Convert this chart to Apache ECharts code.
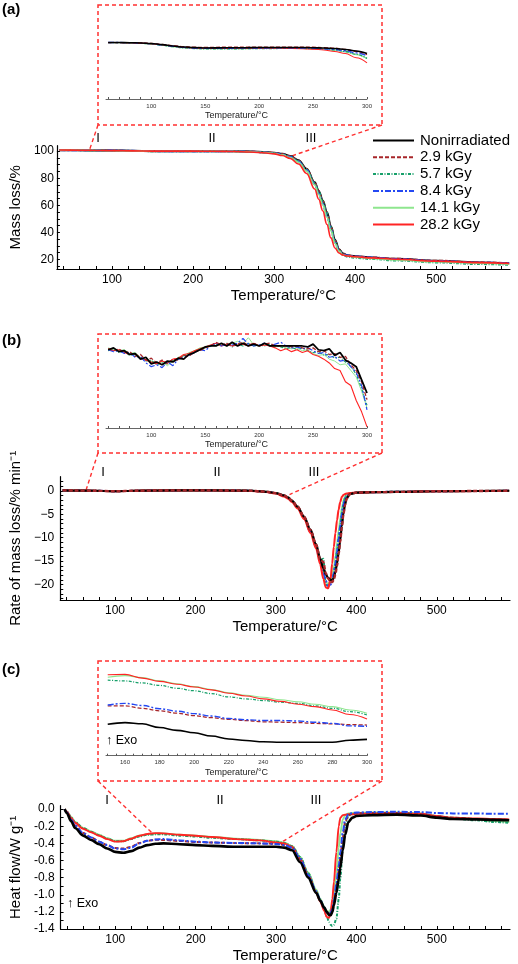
<!DOCTYPE html>
<html><head><meta charset="utf-8">
<script src="https://cdn.jsdelivr.net/npm/echarts@6/dist/echarts.min.js"></script>
<style>html,body{margin:0;padding:0;background:#fff}#c{width:518px;height:964px}</style>
</head><body><div id="c"></div>
<script>
// ---------- names ----------
const seriesNames = ['Nonirradiated', '2.9 kGy', '5.7 kGy', '8.4 kGy', '14.1 kGy', '28.2 kGy'];

// ---------- (a) TG main ----------
const tempA = [35, 50, 75, 100, 125, 150, 175, 200, 225, 250, 270, 290, 300, 310, 320, 330, 340, 350, 355, 360, 365, 370, 375, 380, 385, 390, 400, 420, 450, 500, 550, 590];
const massNon = [100.8, 100.7, 100.6, 100.4, 100.2, 100.0, 100.0, 100.0, 100.0, 99.9, 99.7, 99.2, 98.8, 97.9, 96.3, 93.2, 87.0, 77.0, 70.5, 63.5, 55.0, 44.5, 34.5, 27.5, 24.3, 23.1, 22.4, 21.5, 20.4, 19.0, 17.8, 17.2];
const mass29 = [100.8, 100.7, 100.6, 100.4, 100.2, 100.05, 100.05, 100.05, 100.05, 99.95, 99.75, 99.2, 98.8, 97.9, 96.2, 93.0, 86.8, 76.8, 70.2, 63.0, 54.5, 44.0, 34.0, 27.2, 24.2, 23.1, 22.4, 21.6, 20.6, 19.2, 18.0, 17.4];
const mass57 = [100.8, 100.7, 100.55, 100.3, 100.05, 99.9, 99.9, 99.9, 99.9, 99.8, 99.55, 99.0, 98.5, 97.5, 95.8, 92.7, 86.5, 76.8, 70.2, 63.0, 54.5, 44.0, 34.0, 27.0, 23.4, 22.0, 21.2, 20.3, 19.2, 17.8, 16.6, 16.0];
const mass84 = [100.8, 100.7, 100.6, 100.4, 100.2, 100.0, 99.95, 99.95, 99.95, 99.85, 99.6, 99.0, 98.5, 97.5, 95.7, 92.3, 85.8, 75.5, 68.5, 61.0, 52.0, 42.0, 32.5, 26.5, 23.8, 23.0, 22.3, 21.4, 20.3, 18.9, 17.7, 17.2];
const mass141 = [100.8, 100.7, 100.55, 100.3, 100.05, 99.9, 99.9, 99.9, 99.9, 99.8, 99.5, 98.9, 98.3, 97.2, 95.3, 91.8, 85.2, 75.0, 68.0, 60.5, 51.5, 41.5, 32.0, 26.2, 23.5, 22.6, 21.8, 20.8, 19.7, 18.3, 17.2, 16.6];
const mass282 = [100.8, 100.7, 100.6, 100.4, 100.2, 100.0, 100.0, 100.0, 99.9, 99.7, 99.3, 98.6, 98.0, 96.8, 94.6, 90.5, 83.5, 72.0, 64.5, 56.0, 46.0, 36.0, 28.5, 24.8, 23.3, 22.6, 22.0, 21.2, 20.2, 18.8, 17.7, 17.1];

// ---------- (a) inset ----------
const tempAi = [60, 70, 80, 90, 100, 110, 120, 130, 140, 150, 170, 190, 210, 230, 250, 260, 270, 280, 290, 300];
const massInNon = [100.8, 100.8, 100.78, 100.74, 100.66, 100.5, 100.3, 100.15, 100.06, 100.02, 100.03, 100.06, 100.08, 100.08, 100.05, 100.0, 99.93, 99.8, 99.58, 99.2];
const massIn29 = [100.8, 100.8, 100.78, 100.74, 100.66, 100.52, 100.34, 100.2, 100.12, 100.1, 100.12, 100.14, 100.15, 100.15, 100.12, 100.06, 99.98, 99.8, 99.5, 99.05];
const massIn57 = [100.8, 100.79, 100.76, 100.7, 100.6, 100.42, 100.2, 100.03, 99.92, 99.88, 99.88, 99.9, 99.93, 99.95, 99.93, 99.85, 99.72, 99.5, 99.1, 98.5];
const massIn84 = [100.8, 100.8, 100.77, 100.72, 100.63, 100.46, 100.26, 100.1, 100.0, 99.96, 99.97, 100.0, 100.02, 100.02, 99.98, 99.9, 99.8, 99.6, 99.3, 98.86];
const massIn141 = [100.8, 100.79, 100.76, 100.7, 100.6, 100.42, 100.2, 100.04, 99.94, 99.9, 99.9, 99.92, 99.95, 99.96, 99.92, 99.83, 99.68, 99.45, 99.05, 98.48];
const massIn282 = [100.8, 100.8, 100.77, 100.72, 100.63, 100.47, 100.27, 100.1, 100.0, 99.96, 99.96, 99.98, 99.98, 99.95, 99.85, 99.72, 99.5, 99.2, 98.6, 97.84];

// ---------- (b) DTG main ----------
const tempB = [35, 50, 75, 100, 125, 150, 200, 250, 270, 280, 290, 300, 310, 315, 320, 327, 335, 343, 350, 355, 359, 362, 365, 368, 370, 372, 374, 376, 378, 380, 382, 384, 386, 388, 392, 400, 420, 450, 500, 550, 590];
const rateNon = [0.1, 0.05, 0.0, -0.1, 0.0, 0.05, 0.1, 0.05, 0.0, -0.1, -0.25, -0.5, -1.0, -1.4, -2.1, -3.4, -5.5, -8.3, -11.4, -14.4, -16.5, -17.8, -18.6, -19.0, -19.1, -18.6, -17.3, -15.5, -13.2, -10.5, -7.5, -4.8, -2.9, -1.6, -0.7, -0.4, -0.3, -0.25, -0.1, -0.05, 0.0];
const rate29 = [0.1, 0.05, 0.0, -0.1, 0.0, 0.05, 0.1, 0.05, 0.0, -0.1, -0.25, -0.5, -1.0, -1.4, -2.1, -3.4, -5.5, -8.4, -11.5, -14.6, -15.2, -17.5, -18.8, -19.4, -19.5, -19.0, -17.8, -16.0, -13.5, -10.8, -7.8, -5.0, -3.0, -1.7, -0.7, -0.4, -0.3, -0.25, -0.1, -0.05, 0.0];
const rate57 = [0.1, 0.05, 0.0, -0.1, 0.0, 0.05, 0.1, 0.05, 0.0, -0.1, -0.25, -0.5, -1.0, -1.45, -2.2, -3.5, -5.7, -8.6, -11.8, -15.0, -14.5, -20.0, -20.3, -19.5, -19.0, -17.8, -15.6, -13.0, -10.3, -7.5, -4.8, -2.7, -1.5, -1.0, -0.6, -0.4, -0.3, -0.2, -0.1, -0.05, 0.0];
const rate84 = [0.1, 0.05, 0.0, -0.1, 0.0, 0.05, 0.1, 0.05, 0.0, -0.1, -0.25, -0.5, -1.05, -1.5, -2.25, -3.6, -5.8, -8.8, -12.0, -15.2, -17.5, -19.2, -20.3, -20.0, -19.2, -17.6, -15.5, -13.0, -10.3, -7.6, -5.0, -3.0, -1.7, -1.1, -0.6, -0.4, -0.3, -0.2, -0.1, -0.05, 0.0];
const rate141 = [0.1, 0.05, 0.0, -0.1, 0.0, 0.05, 0.1, 0.05, 0.0, -0.1, -0.25, -0.5, -1.05, -1.5, -2.3, -3.6, -5.8, -8.8, -12.0, -15.0, -17.0, -19.5, -19.8, -19.2, -18.3, -16.3, -13.8, -11.0, -8.3, -5.8, -3.6, -2.0, -1.2, -0.8, -0.6, -0.4, -0.3, -0.2, -0.1, -0.05, 0.0];
const rate282 = [0.1, 0.05, 0.0, -0.1, 0.0, 0.05, 0.1, 0.0, -0.05, -0.15, -0.3, -0.6, -1.2, -1.7, -2.4, -3.8, -6.0, -9.0, -12.3, -15.6, -18.8, -20.6, -20.8, -18.8, -15.5, -12.0, -9.0, -6.3, -4.0, -2.4, -1.3, -0.9, -0.7, -0.6, -0.5, -0.4, -0.3, -0.25, -0.1, -0.05, 0.0];

// ---------- (b) inset ----------
const tempBi = [60, 65, 70, 75, 80, 85, 90, 95, 100, 105, 110, 115, 120, 125, 130, 135, 140, 145, 150, 155, 160, 165, 170, 175, 180, 185, 190, 195, 200, 205, 210, 215, 220, 225, 230, 235, 240, 245, 250, 255, 260, 265, 270, 275, 280, 285, 290, 295, 300];
const rateInNon = [-0.04, -0.02, -0.06, -0.05, -0.09, -0.08, -0.14, -0.12, -0.19, -0.17, -0.2, -0.16, -0.17, -0.13, -0.14, -0.09, -0.07, -0.04, -0.01, 0, 0, 0.03, 0, 0.04, 0, 0.03, 0, 0.02, 0, 0.03, 0, 0, 0, 0, 0, 0, 0, -0.01, 0.02, -0.04, -0.05, -0.03, -0.1, -0.07, -0.15, -0.18, -0.22, -0.36, -0.5];
const rateIn29 = [-0.03, -0.05, -0.03, -0.07, -0.06, -0.11, -0.09, -0.15, -0.13, -0.18, -0.15, -0.19, -0.14, -0.15, -0.1, -0.11, -0.06, -0.05, -0.02, 0, 0.04, 0.01, 0.03, 0, 0.02, 0.04, 0.01, 0.03, 0, 0.02, 0.03, 0, 0, 0, -0.01, 0, -0.02, -0.03, -0.02, -0.06, -0.05, -0.09, -0.08, -0.12, -0.11, -0.2, -0.26, -0.38, -0.57];
const rateIn57 = [-0.05, -0.03, -0.07, -0.06, -0.1, -0.09, -0.13, -0.16, -0.15, -0.2, -0.18, -0.19, -0.15, -0.14, -0.1, -0.08, -0.06, -0.03, -0.02, 0, 0.02, 0, 0.03, -0.01, 0.02, 0, 0.03, 0, 0.01, 0, 0.02, 0, -0.01, -0.03, -0.01, -0.04, -0.02, -0.05, -0.07, -0.06, -0.1, -0.09, -0.13, -0.12, -0.17, -0.22, -0.3, -0.45, -0.63];
const rateIn84 = [-0.04, -0.06, -0.05, -0.08, -0.07, -0.12, -0.11, -0.18, -0.22, -0.2, -0.23, -0.17, -0.21, -0.14, -0.12, -0.1, -0.07, -0.04, -0.05, 0, 0.03, 0, 0.02, 0.01, 0.03, 0.08, 0.02, 0, 0.01, 0.03, 0, 0.02, 0.04, 0, -0.02, -0.01, -0.03, -0.02, -0.05, -0.08, -0.07, -0.12, -0.11, -0.16, -0.15, -0.22, -0.28, -0.42, -0.68];
const rateIn141 = [-0.02, -0.04, -0.05, -0.04, -0.08, -0.07, -0.12, -0.14, -0.16, -0.18, -0.17, -0.21, -0.16, -0.12, -0.11, -0.07, -0.05, -0.02, -0.01, 0.01, 0, 0.02, 0, 0.03, 0.05, 0.02, 0.09, 0.01, 0, 0.02, 0, -0.01, 0, -0.02, -0.03, -0.02, -0.05, -0.04, -0.08, -0.1, -0.09, -0.14, -0.16, -0.2, -0.19, -0.26, -0.33, -0.48, -0.66];
const rateIn282 = [-0.03, -0.05, -0.04, -0.07, -0.09, -0.08, -0.13, -0.15, -0.17, -0.19, -0.16, -0.18, -0.14, -0.13, -0.09, -0.08, -0.05, -0.03, -0.01, 0.01, 0.03, 0, 0.02, 0, 0.01, 0.02, 0, 0.03, 0, 0.01, 0, -0.02, -0.05, -0.03, -0.06, -0.04, -0.07, -0.05, -0.09, -0.11, -0.14, -0.18, -0.24, -0.26, -0.38, -0.42, -0.58, -0.7, -0.86];

// ---------- (c) DSC main ----------
const tempC = [37, 40, 45, 50, 60, 70, 80, 90, 100, 110, 120, 130, 140, 150, 160, 180, 200, 220, 250, 280, 300, 310, 320, 330, 340, 350, 355, 360, 363, 366, 368, 370, 372, 375, 378, 380, 383, 386, 390, 395, 400, 420, 450, 480, 500, 520, 550, 570, 590];
const heatNon = [0.0, -0.05, -0.14, -0.22, -0.31, -0.36, -0.41, -0.46, -0.50, -0.51, -0.49, -0.45, -0.42, -0.405, -0.40, -0.41, -0.42, -0.43, -0.44, -0.44, -0.44, -0.45, -0.48, -0.62, -0.80, -0.98, -1.07, -1.15, -1.20, -1.235, -1.24, -1.2, -1.12, -0.98, -0.82, -0.68, -0.48, -0.3, -0.15, -0.1, -0.08, -0.07, -0.065, -0.075, -0.1, -0.115, -0.12, -0.125, -0.13];
const heat29 = [0.0, -0.04, -0.12, -0.19, -0.28, -0.33, -0.38, -0.42, -0.455, -0.46, -0.44, -0.395, -0.37, -0.358, -0.36, -0.372, -0.385, -0.39, -0.397, -0.40, -0.405, -0.42, -0.45, -0.59, -0.78, -0.97, -1.07, -1.16, -1.21, -1.23, -1.22, -1.18, -1.09, -0.92, -0.72, -0.56, -0.33, -0.15, -0.07, -0.055, -0.05, -0.045, -0.045, -0.06, -0.085, -0.1, -0.115, -0.12, -0.125];
const heat57 = [0.0, -0.03, -0.09, -0.15, -0.22, -0.265, -0.305, -0.345, -0.375, -0.375, -0.35, -0.32, -0.30, -0.295, -0.295, -0.31, -0.32, -0.335, -0.35, -0.365, -0.38, -0.395, -0.43, -0.56, -0.75, -0.96, -1.07, -1.17, -1.25, -1.32, -1.35, -1.365, -1.35, -1.28, -1.05, -0.8, -0.45, -0.2, -0.08, -0.06, -0.05, -0.045, -0.045, -0.055, -0.08, -0.11, -0.13, -0.15, -0.16];
const heat84 = [0.0, -0.04, -0.12, -0.19, -0.28, -0.33, -0.38, -0.42, -0.46, -0.47, -0.45, -0.4, -0.37, -0.355, -0.35, -0.365, -0.38, -0.39, -0.395, -0.40, -0.408, -0.42, -0.45, -0.58, -0.77, -0.96, -1.06, -1.15, -1.2, -1.22, -1.21, -1.17, -1.07, -0.88, -0.66, -0.5, -0.27, -0.12, -0.06, -0.045, -0.04, -0.035, -0.03, -0.035, -0.045, -0.05, -0.05, -0.055, -0.055];
const heat141 = [0.0, -0.03, -0.09, -0.15, -0.22, -0.26, -0.30, -0.34, -0.37, -0.37, -0.34, -0.31, -0.295, -0.285, -0.285, -0.30, -0.31, -0.325, -0.345, -0.36, -0.375, -0.39, -0.43, -0.56, -0.74, -0.94, -1.05, -1.14, -1.19, -1.2, -1.17, -1.12, -1.0, -0.75, -0.45, -0.28, -0.12, -0.07, -0.05, -0.045, -0.045, -0.04, -0.04, -0.05, -0.08, -0.1, -0.12, -0.14, -0.15];
const heat282 = [0.0, -0.03, -0.10, -0.16, -0.23, -0.27, -0.31, -0.35, -0.38, -0.375, -0.345, -0.31, -0.29, -0.28, -0.283, -0.30, -0.31, -0.326, -0.35, -0.365, -0.39, -0.40, -0.44, -0.58, -0.77, -0.97, -1.08, -1.19, -1.26, -1.27, -1.2, -1.05, -0.85, -0.5, -0.2, -0.1, -0.07, -0.065, -0.06, -0.06, -0.055, -0.05, -0.045, -0.055, -0.08, -0.1, -0.11, -0.115, -0.12];

// ---------- (c) inset ----------
const tempCi = [150, 160, 170, 180, 190, 200, 210, 220, 230, 240, 250, 260, 270, 280, 290, 300];
const heatInNon = [-0.403, -0.399, -0.402, -0.411, -0.418, -0.424, -0.432, -0.439, -0.443, -0.446, -0.447, -0.447, -0.447, -0.447, -0.442, -0.44];
const heatIn29 = [-0.358, -0.358, -0.364, -0.37, -0.376, -0.382, -0.387, -0.391, -0.394, -0.397, -0.398, -0.399, -0.401, -0.402, -0.404, -0.405];
const heatIn57 = [-0.295, -0.297, -0.302, -0.308, -0.315, -0.321, -0.328, -0.336, -0.341, -0.345, -0.349, -0.352, -0.358, -0.364, -0.372, -0.38];
const heatIn84 = [-0.356, -0.352, -0.357, -0.365, -0.371, -0.377, -0.383, -0.389, -0.392, -0.394, -0.394, -0.395, -0.398, -0.401, -0.407, -0.408];
const heatIn141 = [-0.288, -0.284, -0.289, -0.297, -0.304, -0.311, -0.318, -0.326, -0.332, -0.337, -0.343, -0.348, -0.354, -0.36, -0.368, -0.376];
const heatIn282 = [-0.282, -0.281, -0.29, -0.298, -0.305, -0.312, -0.319, -0.327, -0.334, -0.341, -0.347, -0.354, -0.36, -0.368, -0.379, -0.39];

// ---------- tick labels ----------
const xMainLabels = [100, 200, 300, 400, 500];
const xMainTicks = [40, 60, 80, 100, 120, 140, 160, 180, 200, 220, 240, 260, 280, 300, 320, 340, 360, 380, 400, 420, 440, 460, 480, 500, 520, 540, 560, 580];
const yALabels = [20, 40, 60, 80, 100];
const yATicks = [15, 20, 25, 30, 35, 40, 45, 50, 55, 60, 65, 70, 75, 80, 85, 90, 95, 100];
const yBLabels = [-20, -15, -10, -5, 0];
const yBTicks = [-23, -22, -21, -20, -19, -18, -17, -16, -15, -14, -13, -12, -11, -10, -9, -8, -7, -6, -5, -4, -3, -2, -1, 0, 1, 2];
const yCLabels = [-1.4, -1.2, -1.0, -0.8, -0.6, -0.4, -0.2, 0.0];
const yCTicks = [-1.4, -1.3, -1.2, -1.1, -1.0, -0.9, -0.8, -0.7, -0.6, -0.5, -0.4, -0.3, -0.2, -0.1, 0.0];
const xInABLabels = [100, 150, 200, 250, 300];
const xInABTicks = [60, 70, 80, 90, 100, 110, 120, 130, 140, 150, 160, 170, 180, 190, 200, 210, 220, 230, 240, 250, 260, 270, 280, 290, 300];
const xInCLabels = [160, 180, 200, 220, 240, 260, 280, 300];
const xInCTicks = [150, 155, 160, 165, 170, 175, 180, 185, 190, 195, 200, 205, 210, 215, 220, 225, 230, 235, 240, 245, 250, 255, 260, 265, 270, 275, 280, 285, 290, 295, 300];

// ---------- styles ----------
const FONT = "'Liberation Sans', Arial, Helvetica, sans-serif";
const STY = {
  'Nonirradiated': {color: '#000000', type: 'solid', width: 2.2},
  '2.9 kGy': {color: '#a8262a', type: [4, 2], width: 1.8},
  '5.7 kGy': {color: '#17a06a', type: [3, 1.5, 1, 1.5], width: 1.8},
  '8.4 kGy': {color: '#2448f2', type: [6, 2, 2, 2], width: 2},
  '14.1 kGy': {color: '#8ee68e', type: 'solid', width: 1.6},
  '28.2 kGy': {color: '#ff2424', type: 'solid', width: 1.6}
};

function mk(name, gi, xs, ys, wScale, smooth) {
  const s = STY[name];
  return {
    type: 'line', name: name, xAxisIndex: gi, yAxisIndex: gi,
    data: xs.map((x, i) => [x, ys[i]]),
    symbol: 'none', showSymbol: false, smooth: smooth, smoothMonotone: 'x',
    lineStyle: {color: s.color, type: s.type, width: s.width * wScale},
    itemStyle: {color: s.color}, emphasis: {disabled: true}, silent: true
  };
}

const series = [
  // (a) main
  mk('Nonirradiated', 0, tempA, massNon, 1, 0.4),
  mk('2.9 kGy', 0, tempA, mass29, 1, 0.4),
  mk('5.7 kGy', 0, tempA, mass57, 1, 0.4),
  mk('8.4 kGy', 0, tempA, mass84, 1, 0.4),
  mk('14.1 kGy', 0, tempA, mass141, 1, 0.4),
  mk('28.2 kGy', 0, tempA, mass282, 1, 0.4),
  // (a) inset
  mk('14.1 kGy', 1, tempAi, massIn141, 0.7, 0.4),
  mk('5.7 kGy', 1, tempAi, massIn57, 0.7, 0.4),
  mk('28.2 kGy', 1, tempAi, massIn282, 0.7, 0.4),
  mk('8.4 kGy', 1, tempAi, massIn84, 0.7, 0.4),
  mk('2.9 kGy', 1, tempAi, massIn29, 0.7, 0.4),
  mk('Nonirradiated', 1, tempAi, massInNon, 0.7, 0.4),
  // (b) main
  mk('14.1 kGy', 2, tempB, rate141, 1, 0.3),
  mk('5.7 kGy', 2, tempB, rate57, 1.1, 0.3),
  mk('8.4 kGy', 2, tempB, rate84, 1, 0.3),
  mk('28.2 kGy', 2, tempB, rate282, 1.3, 0.3),
  mk('Nonirradiated', 2, tempB, rateNon, 1, 0.3),
  mk('2.9 kGy', 2, tempB, rate29, 1.3, 0.3),
  // (b) inset
  mk('14.1 kGy', 3, tempBi, rateIn141, 0.6, false),
  mk('5.7 kGy', 3, tempBi, rateIn57, 0.6, false),
  mk('28.2 kGy', 3, tempBi, rateIn282, 0.7, false),
  mk('8.4 kGy', 3, tempBi, rateIn84, 0.6, false),
  mk('2.9 kGy', 3, tempBi, rateIn29, 0.7, false),
  mk('Nonirradiated', 3, tempBi, rateInNon, 0.8, false),
  // (c) main
  mk('14.1 kGy', 4, tempC, heat141, 1.2, 0.3),
  mk('5.7 kGy', 4, tempC, heat57, 1.1, 0.3),
  mk('28.2 kGy', 4, tempC, heat282, 1.2, 0.3),
  mk('2.9 kGy', 4, tempC, heat29, 1.1, 0.3),
  mk('8.4 kGy', 4, tempC, heat84, 1, 0.3),
  mk('Nonirradiated', 4, tempC, heatNon, 1.2, 0.3),
  // (c) inset
  mk('14.1 kGy', 5, tempCi, heatIn141, 0.7, 0.4),
  mk('5.7 kGy', 5, tempCi, heatIn57, 0.7, 0.4),
  mk('28.2 kGy', 5, tempCi, heatIn282, 0.7, 0.4),
  mk('2.9 kGy', 5, tempCi, heatIn29, 0.7, 0.4),
  mk('8.4 kGy', 5, tempCi, heatIn84, 0.7, 0.4),
  mk('Nonirradiated', 5, tempCi, heatInNon, 0.7, 0.4)
];

function mainX(gi) {
  return {
    type: 'value', gridIndex: gi, min: 32, max: 591,
    axisLine: {onZero: false, lineStyle: {color: '#000', width: 1.2}},
    axisTick: {inside: true, length: 3, customValues: xMainTicks, lineStyle: {color: '#000'}},
    axisLabel: {customValues: xMainLabels, color: '#000', fontSize: 12, margin: 5, fontFamily: FONT},
    splitLine: {show: false},
    name: 'Temperature/°C', nameLocation: 'middle', nameGap: 19,
    nameTextStyle: {fontSize: 15, color: '#000', fontFamily: FONT}
  };
}
function mainY(gi, min, max, labels, ticks, name, gap, fmt, margin) {
  return {
    type: 'value', gridIndex: gi, min: min, max: max,
    axisLine: {show: true, onZero: false, lineStyle: {color: '#000', width: 1.2}},
    axisTick: {show: true, inside: true, length: 3, customValues: ticks, lineStyle: {color: '#000'}},
    axisLabel: {customValues: labels, color: '#000', fontSize: 12, margin: margin, fontFamily: FONT, formatter: fmt},
    splitLine: {show: false},
    name: name, nameLocation: 'middle', nameGap: gap, nameRotate: 90,
    nameTextStyle: {fontSize: 15, color: '#000', fontFamily: FONT}
  };
}
function insetX(gi, min, labels, ticks) {
  return {
    type: 'value', gridIndex: gi, min: min, max: 300,
    axisLine: {onZero: false, lineStyle: {color: '#666', width: 1}},
    axisTick: {inside: true, length: 2, customValues: ticks, lineStyle: {color: '#555'}},
    axisLabel: {customValues: labels, color: '#333', fontSize: 6, margin: 4, fontFamily: FONT},
    splitLine: {show: false},
    name: 'Temperature/°C', nameLocation: 'middle', nameGap: 12,
    nameTextStyle: {fontSize: 9, color: '#222', fontFamily: FONT}
  };
}
function insetY(gi, min, max) {
  return {type: 'value', gridIndex: gi, min: min, max: max, show: false, splitLine: {show: false}};
}

const option = {
  animation: false,
  backgroundColor: '#fff',
  textStyle: {fontFamily: FONT},
  grid: [
    {left: 43, top: 145.7, width: 467, height: 123.3},
    {left: 106, top: 15, width: 261, height: 84},
    {left: 50.7, top: 476.7, width: 459.3, height: 123.3},
    {left: 106, top: 338, width: 261, height: 90},
    {left: 55, top: 805.7, width: 455, height: 123.6},
    {left: 106, top: 665, width: 261, height: 90.7}
  ],
  xAxis: [
    mainX(0), insetX(1, 58, xInABLabels, xInABTicks),
    mainX(2), insetX(3, 58, xInABLabels, xInABTicks),
    mainX(4), insetX(5, 149, xInCLabels, xInCTicks)
  ],
  yAxis: [
    mainY(0, 13, 104, yALabels, yATicks, 'Mass loss/%', 31, v => String(v), 3),
    insetY(1, 92.6, 104.8),
    mainY(2, -23.3, 3, yBLabels, yBTicks, 'Rate of mass loss/% min⁻¹', 32, v => String(v).replace('-', '−'), 6),
    insetY(3, -0.872, 0.085),
    mainY(4, -1.4, 0.04, yCLabels, yCTicks, 'Heat flow/W g⁻¹', 37, v => (Math.abs(v) < 1e-9 ? '0.0' : v.toFixed(1)), 6),
    insetY(5, -0.48, -0.258)
  ],
  legend: {
    show: true, orient: 'vertical', left: 367, top: 128,
    data: seriesNames, selectedMode: false,
    itemWidth: 41, itemHeight: 14, itemGap: 1.8,
    itemStyle: {opacity: 0, borderWidth: 0},
    textStyle: {fontSize: 15, color: '#000', fontFamily: FONT, padding: [0, 0, 0, 1]}
  },
  series: series
};

const chart = echarts.init(document.getElementById('c'), null, {renderer: 'canvas'});
chart.setOption(option);

const red = '#ff3030';
function rect(x, y, w, h) {
  return {type: 'rect', shape: {x: x, y: y, width: w, height: h}, silent: true, z: 1,
    style: {fill: 'none', stroke: red, lineWidth: 1.5, lineDash: [4, 3]}};
}
function txt(x, y, t, size, weight, align) {
  return {type: 'text', x: x, y: y, silent: true, z: 10,
    style: {text: t, font: (weight || 'normal') + ' ' + size + 'px ' + FONT, fill: '#000', align: align || 'center', verticalAlign: 'middle'}};
}
function conn(x1, y1, gi, pt) {
  const p = chart.convertToPixel({gridIndex: gi}, pt);
  return {type: 'line', silent: true, z: 1, shape: {x1: x1, y1: y1, x2: p[0], y2: p[1]},
    style: {stroke: red, lineWidth: 1.4, lineDash: [4, 3]}};
}

const graphics = [
  rect(98, 5, 284, 120), rect(98, 334, 284, 119), rect(98, 661, 284, 120),
  txt(2, 10, '(a)', 15, 'bold', 'left'),
  txt(2, 341, '(b)', 15, 'bold', 'left'),
  txt(2, 670, '(c)', 15, 'bold', 'left'),
  txt(98, 138, 'I', 13), txt(212, 138, 'II', 13), txt(311, 138, 'III', 13),
  txt(103, 472, 'I', 13), txt(217, 472, 'II', 13), txt(314, 472, 'III', 13),
  txt(107, 800, 'I', 13), txt(220, 800, 'II', 13), txt(316, 800, 'III', 13),
  txt(106, 741, '↑ Exo', 12.5, 'normal', 'left'),
  txt(67, 904, '↑ Exo', 12.5, 'normal', 'left'),
  conn(98, 125, 0, [72, 100.6]), conn(382, 125, 0, [322, 96.5]),
  conn(98, 453, 2, [64, 0.1]), conn(382, 453, 2, [317, -0.8]),
  conn(98, 781, 4, [146, -0.28]), conn(382, 781, 4, [308, -0.38])
];
chart.setOption({graphic: graphics});
</script></body></html>
